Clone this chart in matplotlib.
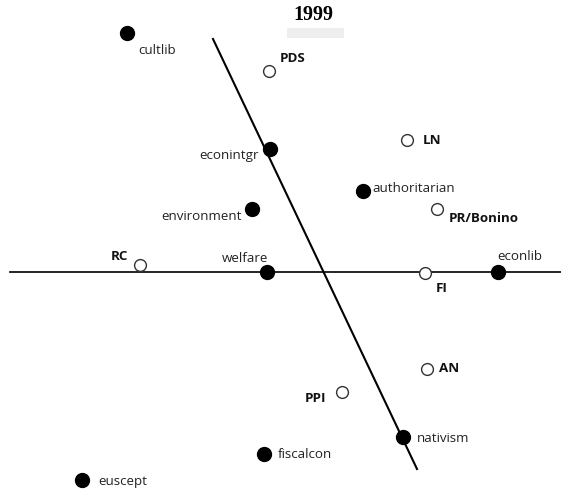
import matplotlib
matplotlib.use("Agg")
import matplotlib.pyplot as plt
from matplotlib.patches import Rectangle

# Pixel-space positions (x right, y down)
issue_names = ["cultlib", "econintgr", "authoritarian", "environment", "welfare",
               "econlib", "nativism", "fiscalcon", "euscept"]
issue_x = [127, 270, 363, 252, 267, 498, 403, 264, 82]
issue_y = [33, 149, 191, 209, 272, 272, 437, 454, 480]

party_names = ["PDS", "LN", "PR/Bonino", "RC", "FI", "AN", "PPI"]
party_x = [269, 407, 437, 140, 425, 427, 342]
party_y = [71, 140, 209, 265, 273, 369, 392]

# label anchor positions (x, y, ha)
issue_lab = [(138, 51, "left"), (259, 155, "right"), (372, 189, "left"),
             (242, 216, "right"), (245, 259, "center"), (497, 256, "left"),
             (417, 438, "left"), (278, 454, "left"), (98, 482, "left")]
party_lab = [(280, 58, "left"), (423, 140, "left"), (449, 218, "left"),
             (128, 256, "right"), (436, 288, "left"), (439, 369, "left"),
             (326, 399, "right")]

h_line_x = [10, 561]
h_line_y = [272, 272]
d_line_x = [213, 417]
d_line_y = [39, 469]

W, H = 561, 493
fig = plt.figure(figsize=(W / 100, H / 100), dpi=100)
ax = fig.add_axes([0, 0, 1, 1])
ax.set_xlim(0, W)
ax.set_ylim(H, 0)
ax.axis("off")

ax.plot(h_line_x, h_line_y, color="black", lw=1.2, zorder=1)
ax.plot(d_line_x, d_line_y, color="black", lw=1.5, zorder=1)

ax.plot(issue_x, issue_y, "o", color="black", markersize=10, zorder=3, linestyle="none")
ax.plot(party_x, party_y, "o", markerfacecolor="white", markeredgecolor="#333333",
        markeredgewidth=1.0, markersize=8.5, zorder=3, linestyle="none")

font = ["Open Sans", "DejaVu Sans"]
for name, (x, y, ha) in zip(issue_names, issue_lab):
    ax.text(x, y, name, ha=ha, va="center", fontsize=9.6, family=font, color="#222222")
for name, (x, y, ha) in zip(party_names, party_lab):
    ax.text(x, y, name, ha=ha, va="center", fontsize=9.6, family=font,
            fontweight="bold", color="#111111")

ax.add_patch(Rectangle((287, 28), 57, 10, facecolor="#eeeeee", edgecolor="none", zorder=0))
ax.text(313, 15, "1999", ha="center", va="center", fontsize=14.5, fontweight="bold",
        family=["Liberation Serif", "DejaVu Serif"])

fig.savefig("out.png", dpi=100)
